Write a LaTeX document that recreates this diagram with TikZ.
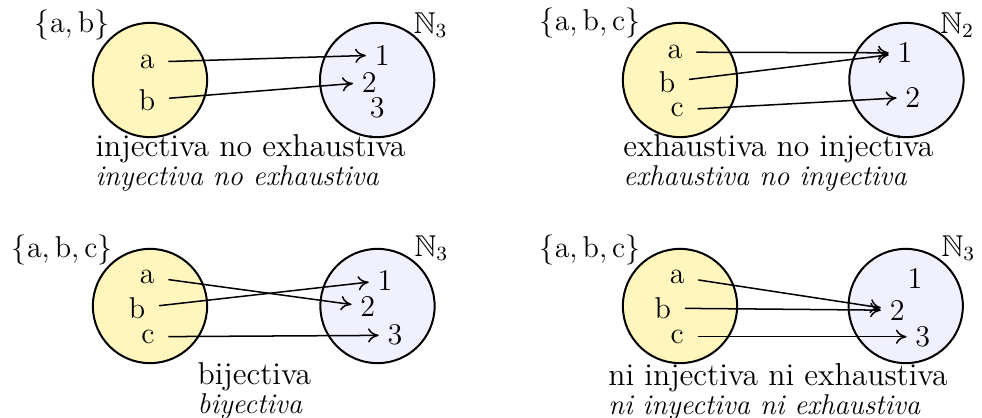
\documentclass[tikz,border=0pt]{standalone}
\usepackage{amssymb}
\usetikzlibrary{arrows.meta}
\definecolor{dom}{HTML}{FFF6BE}
\definecolor{cod}{HTML}{F0F0FF}

\begin{document}
\begin{tikzpicture}[
  setA/.style={draw,thick,circle,minimum size=1.6cm,fill=dom},
  setB/.style={setA,fill=cod},
  elt/.style={font=\large},
  setname/.style={inner sep=0pt,font=\large},
  capbox/.style={align=left,anchor=north west,inner sep=0pt,font=\fontsize{12.6}{10}\selectfont},
  arr/.style={-{To[length=1.5mm,width=2mm]},semithick,shorten <=2pt}
]
\useasboundingbox (-2.1,1.12) rectangle (11.648,-4.718);
\newcommand{\itl}[1]{{\fontsize{11.4}{10}\selectfont\itshape #1}}

% injectiva no exhaustiva
\begin{scope}
\node[setA] (X1) at (0,0) {};
\node[setB] (Y1) at (3.18,0) {};
\node[setname] (SX1) at (-1.09,0.77) {$\{\mathrm{a},\mathrm{b}\}$};
\node[setname] (SY1) at (3.93,0.77) {$\mathbb{N}_3$};
\node[elt] (a1) at (-0.04,0.25) {a};
\node[elt] (b1) at (-0.04,-0.28) {b};
\node[elt] (one1) at (3.25,0.35) {1};
\node[elt] (two1) at (3.07,-0.03) {2};
\node[elt] (three1) at (3.18,-0.39) {3};
\draw[arr] (a1) -- (one1);
\draw[arr] (b1) -- (two1);
\node[capbox] (cap1) at (-0.77,-0.76) {injectiva no exhaustiva\\\itl{inyectiva no exhaustiva}};
\end{scope}

% exhaustiva no injectiva
\begin{scope}[xshift=7.42cm]
\node[setA] (X2) at (0,0) {};
\node[setB] (Y2) at (3.17,0) {};
\node[setname] (SX2) at (-1.26,0.80) {$\{\mathrm{a},\mathrm{b},\mathrm{c}\}$};
\node[setname] (SY2) at (3.88,0.77) {$\mathbb{N}_2$};
\node[elt] (a2) at (-0.07,0.39) {a};
\node[elt] (b2) at (-0.18,-0.03) {b};
\node[elt] (c2) at (-0.04,-0.42) {c};
\node[elt] (one2) at (3.15,0.38) {1};
\node[elt] (two2) at (3.26,-0.24) {2};
\draw[arr] (a2) -- (one2);
\draw[arr] (b2) -- (one2);
\draw[arr] (c2) -- (two2);
\node[capbox] (cap2) at (-0.80,-0.76) {exhaustiva no injectiva\\\itl{exhaustiva no inyectiva}};
\end{scope}

% bijectiva
\begin{scope}[yshift=-3.164cm]
\node[setA] (X3) at (0,0) {};
\node[setB] (Y3) at (3.185,0) {};
\node[setname] (SX3) at (-1.23,0.78) {$\{\mathrm{a},\mathrm{b},\mathrm{c}\}$};
\node[setname] (SY3) at (3.94,0.81) {$\mathbb{N}_3$};
\node[elt] (a3) at (-0.04,0.41) {a};
\node[elt] (b3) at (-0.18,-0.03) {b};
\node[elt] (c3) at (-0.03,-0.43) {c};
\node[elt] (one3) at (3.29,0.36) {1};
\node[elt] (two3) at (3.05,-0.01) {2};
\node[elt] (three3) at (3.43,-0.41) {3};
\draw[arr] (a3) -- (two3);
\draw[arr] (b3) -- (one3);
\draw[arr] (c3) -- (three3);
\node[capbox] (cap3) at (0.66,-0.79) {bijectiva\\\itl{biyectiva}};
\end{scope}

% ni injectiva ni exhaustiva
\begin{scope}[xshift=7.42cm,yshift=-3.164cm]
\node[setA] (X4) at (0,0) {};
\node[setB] (Y4) at (3.16,0) {};
\node[setname] (SX4) at (-1.26,0.78) {$\{\mathrm{a},\mathrm{b},\mathrm{c}\}$};
\node[setname] (SY4) at (3.90,0.81) {$\mathbb{N}_3$};
\node[elt] (a4) at (-0.04,0.41) {a};
\node[elt] (b4) at (-0.24,-0.03) {b};
\node[elt] (c4) at (-0.04,-0.43) {c};
\node[elt] (one4) at (3.29,0.39) {1};
\node[elt] (two4) at (3.04,-0.06) {2};
\node[elt] (three4) at (3.40,-0.43) {3};
\draw[arr] (a4) -- (two4);
\draw[arr] (b4) -- (two4);
\draw[arr] (c4) -- (three4);
\node[capbox] (cap4) at (-1.01,-0.80) {ni injectiva ni exhaustiva\\\itl{ni inyectiva ni exhaustiva}};
\end{scope}
\end{tikzpicture}
\end{document}
